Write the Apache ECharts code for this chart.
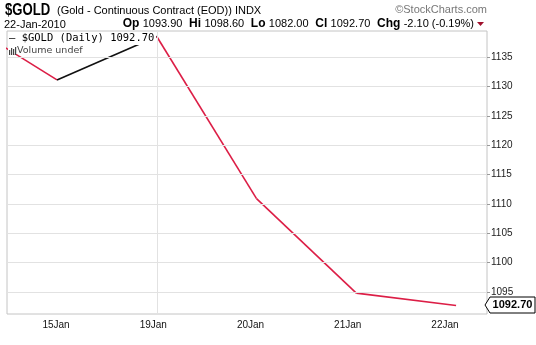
<!DOCTYPE html>
<html><head><meta charset="utf-8">
<script src="https://cdn.jsdelivr.net/npm/echarts@6/dist/echarts.min.js"></script>
<style>html,body{margin:0;padding:0;background:#fff}#c{width:536px;height:345px}</style>
</head><body><div id="c"></div>
<script>
const dates = ['14Jan','15Jan','19Jan','20Jan','21Jan','22Jan'];
const closes = [1141.7, 1131.1, 1138.5, 1110.9, 1094.8, 1092.7];
const yTicks = [1095,1100,1105,1110,1115,1120,1125,1130,1135];
const xTicks = [1,2,3,4,5];
const weekBreaks = [2];
const lastLabel = '1092.70';

const RED = '#dc1e46', BLACK = '#111';
const chart = echarts.init(document.getElementById('c'), null, {renderer:'canvas'});

const series = [];
for (let i = 1; i < closes.length; i++) {
  series.push({
    type:'line', symbol:'none', silent:true, clip:true, z:3,
    lineStyle:{color: closes[i] < closes[i-1] ? RED : BLACK, width:1.6},
    data:[[i-1, closes[i-1]],[i, closes[i]]]
  });
}
series[0].markLine = {
  silent:true, symbol:'none', animation:false, label:{show:false},
  lineStyle:{color:'#e2e2e2', width:1, type:'solid'},
  data: yTicks.map(v=>({yAxis:v})).concat(weekBreaks.map(v=>({xAxis:v})))
};

const labelFont = {fontFamily:'Liberation Sans, Arial', fontSize:10, color:'#111'};
chart.setOption({
  animation:false,
  backgroundColor:'#fff',
  grid:{left:7, right:49, top:31, bottom:31, show:true, borderColor:'#c4c4c4', borderWidth:1, backgroundColor:'transparent'},
  xAxis:[
    {type:'value', min:0.499, max:5.31,
      axisLine:{show:false}, axisTick:{show:false}, splitLine:{show:false}, axisLabel:{show:false}},
    {type:'value', position:'bottom', min:0.496, max:5.432,
      axisLine:{show:false}, axisTick:{show:false}, splitLine:{show:false},
      axisLabel:Object.assign({customValues:xTicks, formatter:v=>dates[Math.round(v)], margin:6}, labelFont)}
  ],
  yAxis:{type:'value', position:'right', min:1091.25, max:1139.43,
    axisLine:{show:false}, splitLine:{show:false},
    axisTick:{show:true, customValues:yTicks, length:3, lineStyle:{color:'#999'}},
    axisLabel:{customValues:yTicks, formatter:v=>String(v), margin:4, fontFamily:'Liberation Sans, Arial', fontSize:10, color:'#222'}},
  series: series
});

const last = chart.convertToPixel({xAxisIndex:0, yAxisIndex:0}, [closes.length-1, closes[closes.length-1]]);
const ty = Math.round(last[1]);
const rich = {
  b:{fontFamily:'Liberation Sans, Arial', fontWeight:'bold', fontSize:12, fill:'#000'},
  n:{fontFamily:'Liberation Sans, Arial', fontSize:11, fill:'#000'}
};
chart.setOption({graphic:[
  {type:'text', z:100, x:5, y:3, scaleX:0.82, style:{text:'$GOLD', font:'bold 16px "Liberation Sans", Arial', fill:'#000'}},
  {type:'text', z:100, x:57, y:5, style:{text:'(Gold - Continuous Contract (EOD)) INDX', font:'11px "Liberation Sans", Arial', fill:'#000'}},
  {type:'text', z:100, x:4, y:19, style:{text:'22-Jan-2010', font:'11px "Liberation Sans", Arial', fill:'#000'}},
  {type:'text', z:100, x:474, y:18, style:{align:'right', rich:rich,
    text:'{b|Op} {n|1093.90}  {b|Hi} {n|1098.60}  {b|Lo} {n|1082.00}  {b|Cl} {n|1092.70}  {b|Chg} {n|-2.10 (-0.19%)}'}},
  {type:'polygon', z:100, shape:{points:[[477,22],[484,22],[480.5,26]]}, style:{fill:'#a0102c'}},
  {type:'text', z:100, x:487, y:4, style:{align:'right', text:'\u00A9StockCharts.com', font:'11px "Liberation Sans", Arial', fill:'#777'}},
  {type:'rect', z:100, shape:{x:8, y:32, width:148, height:13}, style:{fill:'#fff'}},
  {type:'rect', z:100, shape:{x:8, y:45, width:78, height:9}, style:{fill:'#fff'}},
  {type:'text', z:101, x:9, y:33, style:{text:'\u2014 $GOLD (Daily) 1092.70', font:'10.5px "DejaVu Sans Mono"', fill:'#000'}},
  {type:'rect', z:101, shape:{x:9, y:50, width:1.2, height:5}, style:{fill:'#444'}},
  {type:'rect', z:101, shape:{x:11, y:48, width:1.2, height:7}, style:{fill:'#444'}},
  {type:'rect', z:101, shape:{x:13, y:49, width:1.2, height:6}, style:{fill:'#444'}},
  {type:'rect', z:101, shape:{x:15, y:47, width:1.2, height:8}, style:{fill:'#444'}},
  {type:'text', z:101, x:17, y:46, style:{text:'Volume undef', font:'9.5px "DejaVu Sans"', fill:'#444'}},
  {type:'polygon', z:100, shape:{points:[[485,ty],[490,ty-8],[535,ty-8],[535,ty+8],[490,ty+8]]},
    style:{fill:'#fff', stroke:'#000', lineWidth:1}},
  {type:'text', z:101, x:512.5, y:ty, style:{text:lastLabel, align:'center', verticalAlign:'middle', font:'bold 11px "Liberation Sans", Arial', fill:'#000'}}
]});
</script></body></html>
